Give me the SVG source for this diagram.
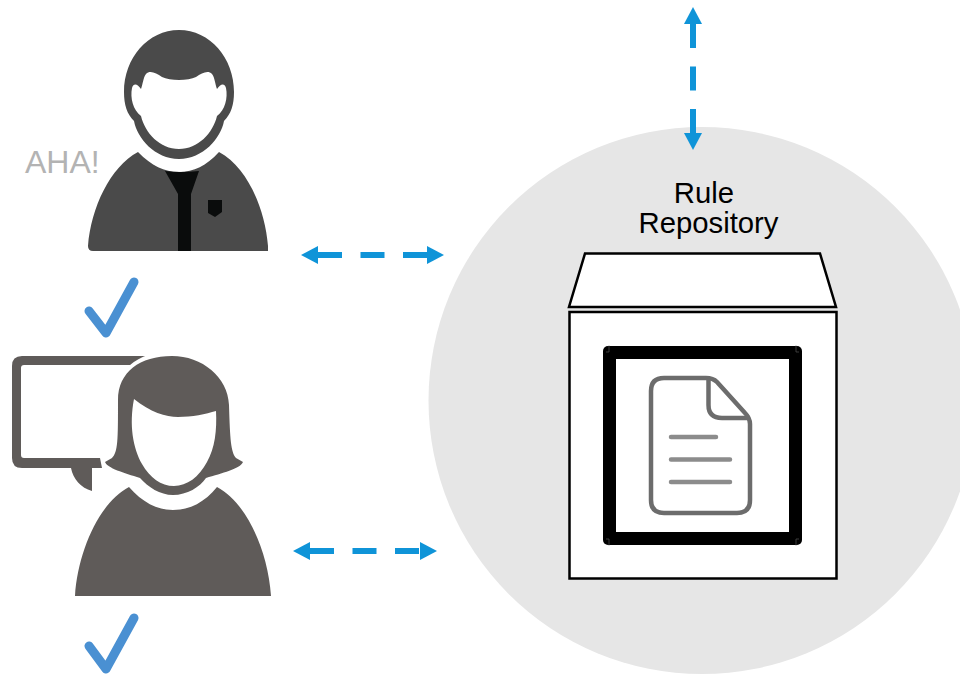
<svg xmlns="http://www.w3.org/2000/svg" width="960" height="674" viewBox="0 0 960 674">
<defs>
<marker id="ah" markerUnits="userSpaceOnUse" markerWidth="18" markerHeight="20" refX="0" refY="10" orient="auto-start-reverse"><path d="M0 1L17 10L0 19Z" fill="#0f94d8"/></marker>
</defs>
<style>
.t{font-family:"Liberation Sans",Arial,sans-serif}
.c{fill:none;stroke:#0f94d8;stroke-width:6;stroke-dasharray:24 18.500;marker-start:url(#ah);marker-end:url(#ah)}
.k{fill:none;stroke:#4a90d2;stroke-width:9;stroke-linecap:round;stroke-linejoin:round}
.dl{fill:none;stroke:#8c8c8c;stroke-width:4.500;stroke-linecap:round}
</style>
<rect width="960" height="674" fill="#fff"/>
<g id="repository">
<circle cx="702" cy="400.500" r="273.500" fill="#e6e6e6"/>
<text class="t" x="704" y="203" font-size="29.300" text-anchor="middle" fill="#000">Rule</text>
<text class="t" x="708.500" y="233" font-size="29.300" text-anchor="middle" fill="#000">Repository</text>
<path d="M585 253.500H820L836 307H569Z" fill="#fff" stroke="#000" stroke-width="2.500"/>
<rect x="569.500" y="312" width="267" height="266.500" fill="#fff" stroke="#000" stroke-width="2.500"/>
<rect x="603" y="346" width="199" height="199" rx="5" fill="#000"/>
<rect x="616" y="359" width="173" height="173" fill="#fff"/>
<path d="M609 345.500V352H606M796 345.500V352H799M609 545.500V539H606M796 545.500V539H799" fill="none" stroke="#555" stroke-width="0.700"/>
<g id="document">
<path d="M664 378H706Q713 378 717 382L745 413Q750 418 750 424V500Q750 513 737 513H664Q651 513 651 500V391Q651 378 664 378Z" fill="#fff" stroke="#6c6c6c" stroke-width="4.500"/>
<path d="M708.500 378V405Q708.500 418 722 418H750" fill="none" stroke="#6c6c6c" stroke-width="4.500"/>
<path class="dl" d="M671 437H716M671 459.500H730M671 482H730"/>
</g>
</g>
<g id="man">
<text class="t" x="25" y="173" font-size="32" fill="#b3b3b3">AHA!</text>
<path d="M179 30C148 30 124 58 124 92C124 105 127 114 134 121C137 138 155 159 179 159C203 159 221 138 224 121C231 114 234 105 234 92C234 58 210 30 179 30Z" fill="#4a4a4a"/>
<path d="M146 74C150 70 156 73 162 77C170 81 188 81 196 77C202 73 208 70 212 74C215 78 215 84 217 89C220 85 224 82 226 88C228 98 225 110 217 116C213 133 198 149 179 149C160 149 145 133 141 116C133 110 130 98 132 88C134 82 138 85 141 89C143 84 143 78 146 74Z" fill="#fff"/>
<path d="M138 152C152 166 164 172 179 172C194 172 206 166 219 152C247 167 265 208 268 246V251H93Q88 251 88 246C91 208 110 167 138 152Z" fill="#4a4a4a"/>
<path d="M165 171Q180 173 199 171L191 194V251H178V194Z" fill="#0a0c0c"/>
<path d="M208 200H222V212L215 217L208 213Z" fill="#0a0c0c"/>
</g>
<g id="check1"><path class="k" d="M89 311L106 333L134 282"/></g>
<g id="woman">
<path d="M147 356H22Q12 356 12 366V458Q12 468 22 468H71C73 479 81 488 92 491V468H102L100 458H24Q21 458 21 455V368Q21 365 24 365H136Z" fill="#5f5b59"/>
<path d="M172 351C138 351 113 372 113 402C113 440 115 452 110 458L103 461C106 469 122 474 139 477C148 488 160 496 174 496C188 496 200 488 209 477C224 474 240 470 243 461L236 458C231 452 230 440 230 405C230 374 204 351 172 351Z" fill="#fff"/>
<path d="M172 356C140 356 118 372 118 400C118 440 118 452 112 458L105 462C107 468 124 473 140 478C148 487 160 495 173 495C187 495 200 487 206 478C222 473 240 469 243 462L236 458C231 452 230 440 229 405C228 377 202 356 172 356Z" fill="#5f5b59"/>
<path d="M134 399C150 412 166 417 178 417C192 417 206 414 216 411C217 430 215 448 207 462C199 477 187 486 174 486C161 486 150 478 142 464C133 448 129 425 134 399Z" fill="#fff"/>
<path d="M129 487C142 502 157 510 173 510C190 510 205 502 217 487C246 502 268 550 271 596H75C78 550 100 502 129 487Z" fill="#5f5b59"/>
</g>
<g id="check2"><path class="k" d="M89 646L106 669L134 618"/></g>
<g id="connectors">
<path class="c" d="M318 255H427"/>
<path class="c" d="M310 551H420"/>
<path class="c" d="M693 24V133"/>
</g>
</svg>
